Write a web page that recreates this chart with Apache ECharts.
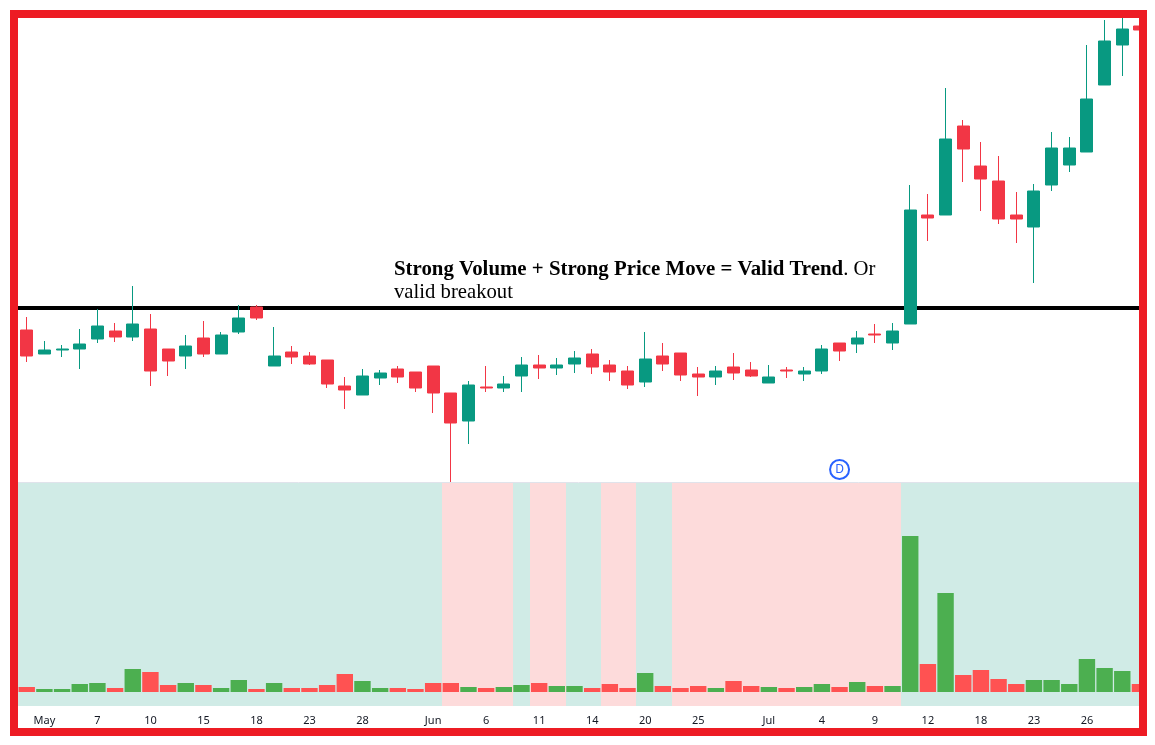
<!DOCTYPE html>
<html>
<head>
<meta charset="utf-8">
<style>html,body{margin:0;padding:0;background:#fff;overflow:hidden}#c{width:1147px;height:745px}</style>
<script src="https://cdn.jsdelivr.net/npm/echarts@6/dist/echarts.min.js"></script>
</head>
<body>
<div id="c"></div>
<script>
// Daily candles (price units are relative: the reference shows no price axis)
const opens  = [152,128,132,133,143,151,145,153,133,126,144,128,150,175,116,130,126,122,96,87,104,113,110,116,89,61,95,94,106,117,114,118,128,117,111,100,126,129,108,105,115,112,99,112,108,111,139,138,148,139,158,267,267,356,316,301,267,255,297,317,330,397,437,456];
const closes = [126,132,133,138,156,145,158,111,121,136,128,147,164,164,126,125,118,98,92,106,109,105,94,89,59,97,94,98,117,114,117,124,115,110,97,123,118,107,105,111,109,106,105,111,111,133,131,144,147,151,272,264,343,333,303,263,263,291,334,334,383,441,453,452];
const lows   = [120,128,125,113,139,140,141,96,106,113,125,128,148,162,116,118,117,94,73,87,97,99,90,69,0,38,90,90,90,103,107,109,108,101,93,95,111,101,86,97,102,105,99,104,101,108,121,129,139,132,158,241,267,300,271,258,239,199,291,310,330,397,406,452];
const highs  = [165,141,137,153,173,159,196,168,133,147,161,150,177,177,155,136,130,122,105,113,112,116,110,116,89,101,116,106,125,127,124,131,133,122,116,150,139,129,115,116,129,120,117,115,115,137,139,151,158,159,297,288,394,362,340,326,290,298,350,345,437,462,470,456];
// Volume per day, relative units
const volumes = [5,3,3,8,9,4,23,20,7,9,7,4,12,3,9,4,4,7,18,11,4,4,3,9,9,5,4,5,7,9,6,6,4,8,4,19,6,4,6,4,11,6,5,4,5,8,5,10,6,6,156,28,99,17,22,13,8,12,12,8,33,24,21,8];
// Background regime per day: 1 = teal, 0 = pink
const regime = [1,1,1,1,1,1,1,1,1,1,1,1,1,1,1,1,1,1,1,1,1,1,1,1,0,0,0,0,1,0,0,1,1,0,0,1,1,0,0,0,0,0,0,0,0,0,0,0,0,0,1,1,1,1,1,1,1,1,1,1,1,1,1,1];
// Tick labels and the days they sit on
const tickDays   = [1,4,7,10,13,16,19,23,26,29,32,35,38,42,45,48,51,54,57,60];
const tickLabels = ["May","7","10","15","18","23","28","Jun","6","11","14","20","25","Jul","4","9","12","18","23","26"];
const resistance = 174.5;
const markerDay = 46, markerLevel = 12.5;
const noteBold = "Strong Volume + Strong Price Move = Valid Trend";
const noteRest1 = ". Or";
const noteRest2 = "valid breakout";

const GREEN="#089981", RED="#F23645", VGREEN="#4CAF50", VRED="#FF5252";
const categories = opens.map((_,i)=>String(i));
const candles = opens.map((o,i)=>[o,closes[i],lows[i],highs[i]]);
const left=17.9, width=64*17.67;

const chart = echarts.init(document.getElementById('c'),null,{renderer:'canvas'});
chart.setOption({
  animation:false,
  backgroundColor:'#fff',
  title:{
    left:394, top:258, padding:0,
    text:`{b|${noteBold}}{r|${noteRest1}}\n{r|${noteRest2}}`,
    textStyle:{fontWeight:'normal',rich:{
      b:{fontFamily:'Liberation Serif',fontSize:20.85,fontWeight:'bold',color:'#000',lineHeight:23},
      r:{fontFamily:'Liberation Serif',fontSize:20.7,fontWeight:'normal',color:'#000',lineHeight:23}
    }}
  },
  grid:[
    {left,width,top:18,height:464,outerBoundsMode:'none'},
    {left,width,top:482,height:224,outerBoundsMode:'none'}
  ],
  xAxis:[
    {type:'category',gridIndex:0,data:categories,boundaryGap:true,show:false},
    {type:'category',gridIndex:1,data:categories,boundaryGap:true,
     axisLine:{show:false},axisTick:{show:false},splitLine:{show:false},
     axisLabel:{interval:0,margin:9,fontFamily:'Noto Sans',fontSize:11,color:'#131722',hideOverlap:false,
       formatter:(v,i)=>{const k=tickDays.indexOf(i);return k<0?'':tickLabels[k];}}}
  ],
  yAxis:[
    {type:'value',gridIndex:0,min:0,max:464,show:false,splitLine:{show:false}},
    {type:'value',gridIndex:1,min:-14,max:210,show:false,splitLine:{show:false}}
  ],
  series:[
    {type:'candlestick',xAxisIndex:0,yAxisIndex:0,data:candles,barWidth:12.5,z:10,clip:true,
     itemStyle:{color:GREEN,color0:RED,borderColor:GREEN,borderColor0:RED,borderWidth:1},
     markLine:{silent:true,symbol:'none',z:1,label:{show:false},animation:false,
       lineStyle:{color:'#000',width:4,type:'solid'},
       data:[{yAxis:resistance}]},
     markPoint:{silent:true,z:20,animation:false,symbol:'circle',symbolSize:19,
       itemStyle:{color:'#fff',borderColor:'#2962FF',borderWidth:2},
       label:{show:true,formatter:'D',color:'#2962FF',fontFamily:'Noto Sans',fontSize:12,fontWeight:'normal'},
       data:[{coord:[String(markerDay),markerLevel]}]}
    },
    {type:'custom',xAxisIndex:1,yAxisIndex:1,z:1,silent:true,clip:true,
     data:regime.map((r,i)=>[i,r]),encode:{x:0,y:1},
     renderItem:(p,api)=>{
       const i=api.value(0), band=api.size([1,0])[0], cx=api.coord([i,0])[0];
       const x0=Math.round(cx-band/2), x1=Math.round(cx+band/2), g=p.coordSys;
       return {type:'rect',shape:{x:x0,y:g.y+1,width:x1-x0,height:g.height-1},
         style:{fill:api.value(1)?'#D0EBE6':'#FDDBDB'}};
     }},
    {type:'bar',xAxisIndex:1,yAxisIndex:1,z:5,barWidth:16.4,
     data:volumes.map((v,i)=>({value:v,itemStyle:{color:closes[i]>opens[i]?VGREEN:VRED}}))}
  ],
  graphic:[
    {type:'line',silent:true,z:50,shape:{x1:18,y1:482.5,x2:1139,y2:482.5},style:{stroke:'#E0E3EB',lineWidth:1}},
    {type:'rect',silent:true,z:100,shape:{x:14,y:14,width:1129,height:718},style:{fill:'none',stroke:'#ED1C24',lineWidth:8}}
  ]
});
</script>
</body>
</html>
